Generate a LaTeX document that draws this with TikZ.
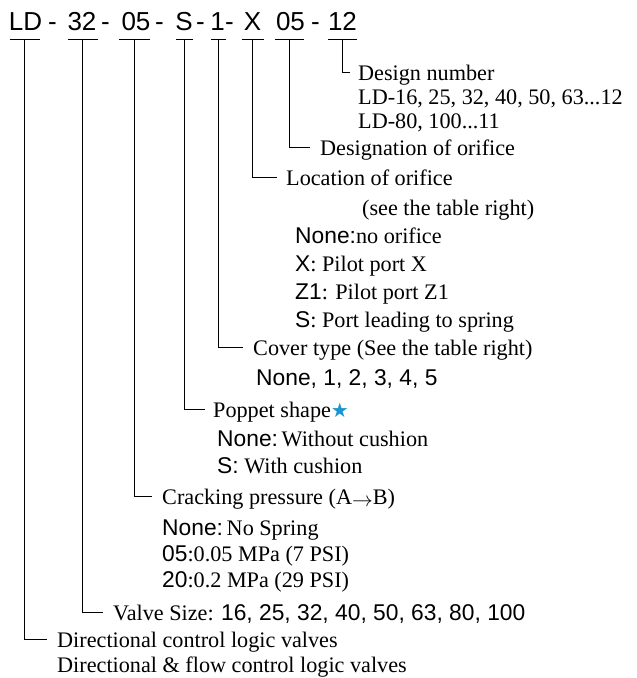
\documentclass[tikz,border=0pt]{standalone}
\usepackage{fontspec}
\setmainfont{Liberation Serif}
\newfontfamily\ar{Liberation Sans}
\newfontfamily\dv{DejaVu Sans}
\newcommand{\sn}[1]{{\ar\fontsize{22.8}{22.8}\selectfont #1}}
\definecolor{starblue}{RGB}{25,150,210}
\begin{document}
\begin{tikzpicture}[x=1pt,y=-1pt,
  code/.style={font=\ar\fontsize{26}{26}\selectfont, anchor=base, inner sep=0pt},
  lab/.style={font=\fontsize{22.2}{22.2}\selectfont, anchor=base west, inner sep=0pt},
  conn/.style={line width=1.15pt, line cap=butt, line join=miter},
]
\useasboundingbox (0,0) rectangle (637,678);

% code tokens
\node[code] (cLD) at (25.5,30) {LD};
\node[code] (m1) at (52.5,30) {-};
\node[code] (c32) at (82,30) {32};
\node[code] (m2) at (105.5,30) {-};
\node[code] (c05) at (136,30) {05};
\node[code] (m3) at (159.5,30) {-};
\node[code] (cS) at (184,30) {S};
\node[code] (m4) at (200.5,30) {-};
\node[code] (c1) at (217.5,30) {1};
\node[code] (m5) at (229.5,30) {-};
\node[code] (cX) at (252.5,30) {X};
\node[code] (c05b) at (290.5,30) {05};
\node[code] (m6) at (315.5,30) {-};
\node[code] (c12) at (342.5,30) {12};

% underline points
\coordinate (uLD) at (24.5,39.5);
\coordinate (u32) at (82.5,39.5);
\coordinate (u05) at (134.5,39.5);
\coordinate (uS) at (184.5,39.5);
\coordinate (u1) at (218.5,39.5);
\coordinate (uX) at (252.5,39.5);
\coordinate (u05b) at (289.5,39.5);
\coordinate (u12) at (342.5,39.5);

\draw[conn] ([xshift=-15pt]uLD) -- ([xshift=15pt]uLD);
\draw[conn] ([xshift=-15pt]u32) -- ([xshift=15pt]u32);
\draw[conn] ([xshift=-15.5pt]u05) -- ([xshift=15.5pt]u05);
\draw[conn] ([xshift=-8.5pt]uS) -- ([xshift=8.5pt]uS);
\draw[conn] ([xshift=-7.5pt]u1) -- ([xshift=7.5pt]u1);
\draw[conn] ([xshift=-11pt]uX) -- ([xshift=11pt]uX);
\draw[conn] ([xshift=-14.5pt]u05b) -- ([xshift=14.5pt]u05b);
\draw[conn] ([xshift=-14.5pt]u12) -- ([xshift=14.5pt]u12);

% labels
\node[lab] (d12) at (358,80) {Design number};
\node[lab] (d12b) at (358,104) {LD-16, 25, 32, 40, 50, 63...12};
\node[lab] (d12c) at (358,128) {LD-80, 100...11};
\node[lab] (d05b) at (320,155) {Designation of orifice};
\node[lab] (dX) at (286,185) {Location of orifice};
\node[lab] (dXa) at (362,215) {(see the table right)};
\node[lab] (dXb) at (295,243) {\sn{None:}no orifice};
\node[lab] (dXc) at (295,271) {\sn{X}: Pilot port X};
\node[lab] (dXd) at (295,299) {\sn{Z1}: Pilot port Z1};
\node[lab] (dXe) at (295,327) {\sn{S}: Port leading to spring};
\node[lab] (d1) at (253,355) {Cover type (See the table right)};
\node[lab] (d1a) at (256,385) {\sn{None, 1, 2, 3, 4, 5}};
\node[lab] (dS) at (213,417) {Poppet shape{\dv\fontsize{20}{20}\selectfont\color{starblue}★}};
\node[lab] (dSa) at (217,446) {\sn{None:}\,Without cushion};
\node[lab] (dSb) at (217,473) {\sn{S:} With cushion};
\node[lab] (d05) at (162,504) {Cracking pressure (A\raisebox{-2pt}{$\rightarrow$}B)};
\node[lab] (d05c) at (162,535) {\sn{None:}\,No Spring};
\node[lab] (d05d) at (162,561) {\sn{05}:0.05 MPa (7 PSI)};
\node[lab] (d05e) at (162,587) {\sn{20}:0.2 MPa (29 PSI)};
\node[lab] (d32) at (113,620) {Valve Size: \sn{16, 25, 32, 40, 50, 63, 80, 100}};
\node[lab] (dLD) at (57,647) {Directional control logic valves};
\node[lab] (dLDb) at (57,672) {Directional \& flow control logic valves};

% connectors
\draw[conn] (u12) |- ([shift={(-8pt,7.5pt)}]d12.base west);
\draw[conn] (u05b) |- ([shift={(-10pt,7.5pt)}]d05b.base west);
\draw[conn] (uX) |- ([shift={(-9pt,7.5pt)}]dX.base west);
\draw[conn] (u1) |- ([shift={(-10pt,7.5pt)}]d1.base west);
\draw[conn] (uS) |- ([shift={(-8pt,7.5pt)}]dS.base west);
\draw[conn] (u05) |- ([shift={(-10pt,7.5pt)}]d05.base west);
\draw[conn] (u32) |- ([shift={(-10pt,7.5pt)}]d32.base west);
\draw[conn] (uLD) |- ([shift={(-10pt,7.5pt)}]dLD.base west);
\end{tikzpicture}
\end{document}
